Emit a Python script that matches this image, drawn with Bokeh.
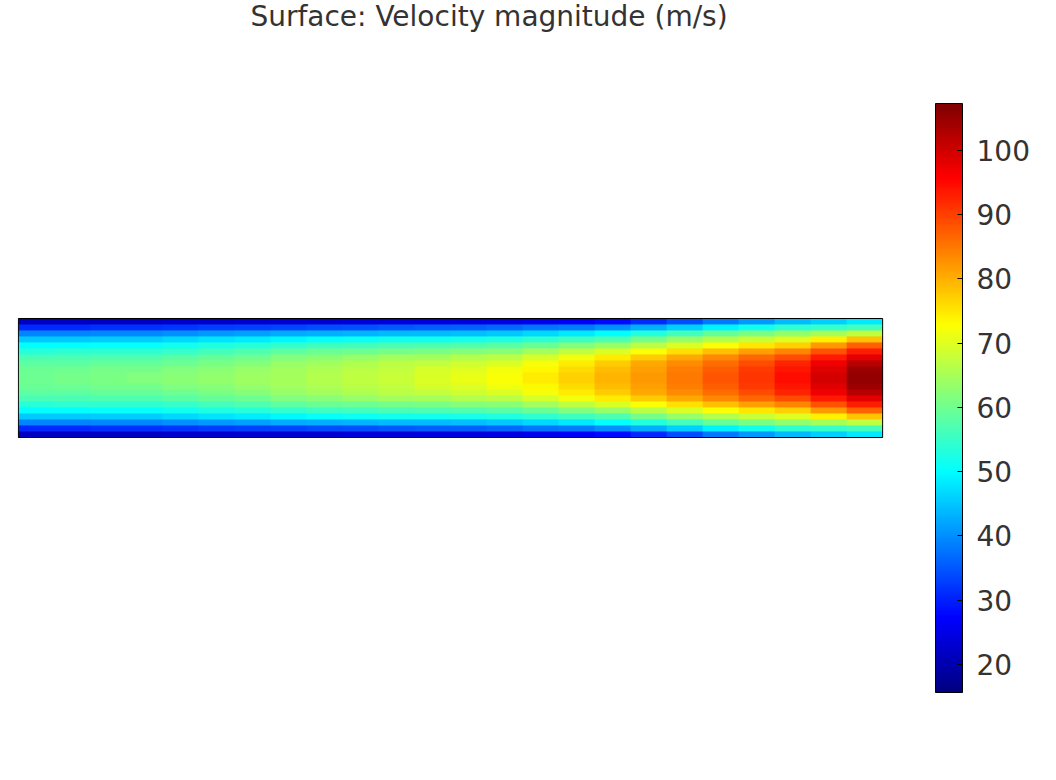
import numpy as np
from bokeh.plotting import figure
from bokeh.models import LinearColorMapper, ColorBar, FixedTicker, Range1d, Label
from bokeh.embed import file_html
from bokeh.resources import INLINE

# ---- data (velocity magnitude, m/s) ----
title_text = "Surface: Velocity magnitude (m/s)"
tick_values = [20, 30, 40, 50, 60, 70, 80, 90, 100]
v_min, v_max = 15.6, 107.3

# 24 equally spaced stations along the channel (inlet -> outlet);
# 10 rows from the wall (r0) to the centreline (r9); the field is symmetric.
r0 = [22, 22, 22, 22, 22.5, 22.5, 23, 23, 23, 23.5, 23.5, 24, 24, 24.5, 25.5, 26.5, 28, 31, 34, 38, 41, 44, 46, 48]
r1 = [31, 31, 31.5, 31.5, 32, 32.5, 33, 33.5, 34, 34.5, 35, 35.5, 36, 36.5, 37.5, 38.5, 40, 43, 46, 49, 51.5, 54, 55, 56]
r2 = [39, 39, 39.5, 39.5, 40, 41, 41.5, 42.5, 43, 43.5, 44, 44, 44.5, 45, 46.5, 48, 50, 53, 56, 59, 61, 63, 65, 67]
r3 = [45, 45, 45.5, 45.5, 46.5, 47.5, 48.5, 49.5, 50.5, 51, 51.5, 51.5, 52, 52.5, 54, 55.5, 57, 60.5, 63.5, 66, 68, 70, 74, 78]
r4 = [50, 50, 50.5, 50.5, 51.5, 52.5, 53.5, 54.5, 55.5, 56, 56.5, 57, 57.5, 58, 59.5, 61.5, 63.5, 66.5, 69.5, 72.5, 75, 77, 82, 87]
r5 = [53.5, 54, 54, 54, 55, 56, 57, 58.5, 59.5, 60, 60.5, 61, 62, 62.5, 64.5, 67, 69.5, 72.5, 75.5, 78.5, 81.5, 84, 88.5, 93]
r6 = [56.5, 56.5, 57, 57, 58, 59, 60, 61.5, 62.5, 63.5, 64.5, 65, 66, 66.5, 69, 71.5, 74.5, 77.5, 80.5, 83.5, 86.5, 89, 93.5, 98]
r7 = [58.5, 58.5, 59, 59, 60, 61, 62, 63.5, 64.5, 65.5, 66.5, 67.5, 68.5, 69.5, 72, 74.5, 77.5, 80.5, 83, 86, 89, 92.5, 97, 102]
r8 = [59.5, 60, 60.5, 60.5, 61.5, 62.5, 63.5, 64.5, 65.5, 66.5, 67.5, 69, 70, 71.5, 73.5, 76, 79, 81.5, 84.5, 87.5, 90.5, 94, 98.5, 104.5]
r9 = [60, 60.5, 61, 61.5, 62.5, 63, 64, 65, 66, 67, 68, 69.5, 71, 72.5, 74.5, 77, 79.5, 82, 85, 88, 91, 94.5, 99.5, 105.5]

half = np.array([r0, r1, r2, r3, r4, r5, r6, r7, r8, r9], dtype=float)
field = np.vstack([half, half[::-1]])  # mirror about the centreline

L, H = 10.0, 1.377  # channel length and height (drawing units)


def jet(n):
    cols = []
    for i in range(n):
        t = i / (n - 1)
        r = min(max(1.5 - abs(4 * t - 3), 0), 1)
        g = min(max(1.5 - abs(4 * t - 2), 0), 1)
        b = min(max(1.5 - abs(4 * t - 1), 0), 1)
        cols.append("#%02x%02x%02x" % (int(round(r * 255)), int(round(g * 255)), int(round(b * 255))))
    return cols


mapper = LinearColorMapper(palette=jet(256), low=v_min, high=v_max)

# ---- layout (pixels) ----
FW, FH = 1030, 692          # frame covers the whole drawing area
CB_H, CB_W = 589, 27        # colour bar size
CB_X = 918                  # colour bar left, from frame left
CH_BOTTOM = 255             # channel bottom, from frame bottom
upp = 10.02 / 866.0         # data units per pixel
x0 = -0.01
y0 = -CH_BOTTOM * upp

p = figure(
    frame_width=FW, frame_height=FH,
    x_range=Range1d(x0, x0 + FW * upp),
    y_range=Range1d(y0, y0 + FH * upp),
    x_axis_type=None, y_axis_type=None,
    output_backend="svg", toolbar_location=None,
    min_border_left=17, min_border_bottom=80, min_border_top=0, min_border_right=2,
)
p.title = None
p.outline_line_color = None
p.grid.visible = False
p.background_fill_color = "white"
p.border_fill_color = "white"
# value range that lines up with the colour bar (for the left-side ticks)
p.extra_y_ranges = {"cb": Range1d(v_min, v_min + (v_max - v_min) * FH / CB_H)}

p.image(image=[field], x=0, y=0, dw=L, dh=H, color_mapper=mapper)
p.quad(left=0, right=L, bottom=0, top=H, fill_color=None, line_color="black", line_width=1)

cb = ColorBar(
    color_mapper=mapper, width=CB_W, height=CB_H,
    location=(CB_X, 0),
    ticker=FixedTicker(ticks=tick_values),
    padding=0, margin=0,
    bar_line_color="black", bar_line_width=1,
    major_tick_in=5, major_tick_out=0, major_tick_line_color="black",
    minor_tick_line_color=None,
    label_standoff=14,
    major_label_text_font="DejaVu Sans",
    major_label_text_font_size="28px",
    major_label_text_color="#333333",
    background_fill_color=None,
    border_line_color=None,
)
p.add_layout(cb, "center")

# ticks on the left edge of the colour bar
cb_left = x0 + CB_X * upp
p.segment(x0=cb_left, x1=cb_left + 5 * upp, y0=tick_values, y1=tick_values,
          y_range_name="cb", line_color="black", line_width=1)

title = Label(x=x0 + (488.5 - 17) * upp, y=y0 + (FH - 16) * upp, text=title_text,
              text_align="center", text_baseline="alphabetic",
              text_font="DejaVu Sans", text_font_size="28px", text_color="#333333")
p.add_layout(title)

open("out.html", "w").write(file_html(p, INLINE))
